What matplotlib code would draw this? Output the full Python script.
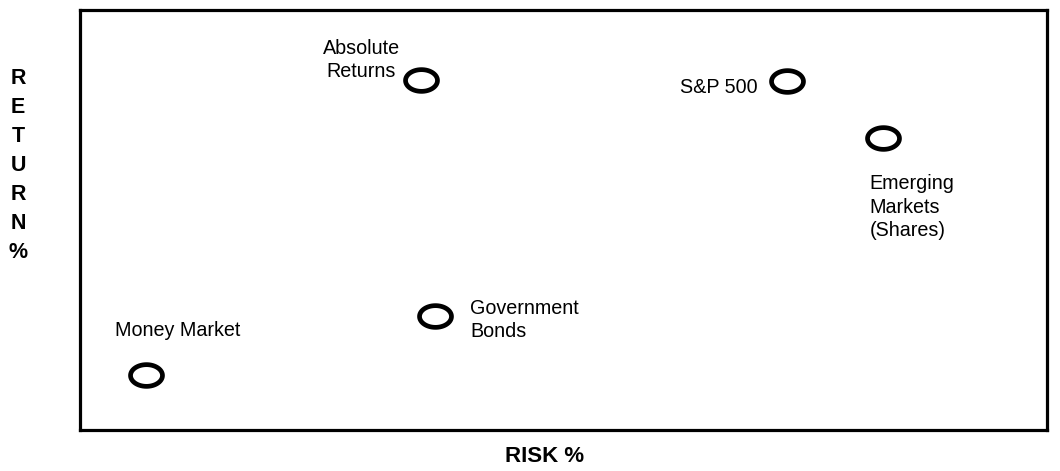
import numpy as np
import matplotlib
matplotlib.use("Agg")
import matplotlib.pyplot as plt
from matplotlib.path import Path

plt.rcParams["font.family"] = ["Liberation Sans", "DejaVu Sans"]

# asset classes, risk (x) vs return (y) on a 0-10 scale
assets = ["Money Market", "Government\nBonds", "Absolute\nReturns", "S&P 500",
          "Emerging\nMarkets\n(Shares)"]
risk = [0.68, 3.67, 3.53, 7.31, 8.30]
ret = [1.31, 2.71, 8.33, 8.31, 6.95]

# label placement relative to each marker (pixels) and alignment
offsets = [(32, 44), (35, -4), (-60, 20), (-29, -7), (-13, -69)]
aligns = ["center", "left", "center", "right", "left"]

# flattened ellipse marker
t = np.linspace(0, 2 * np.pi, 60)
ring = Path(np.column_stack([np.cos(t), 0.68 * np.sin(t)]), closed=True)

fig = plt.figure(figsize=(10.6, 4.71), dpi=100)
ax = fig.add_axes([80 / 1060, 1 - 430 / 471, 967 / 1060, 420 / 471])
ax.set_xlim(0, 10)
ax.set_ylim(0, 10)
ax.set_xticks([])
ax.set_yticks([])
for s in ax.spines.values():
    s.set_linewidth(2.3)

ax.plot(risk, ret, linestyle="none", marker=ring, markersize=23,
        markerfacecolor="none", markeredgecolor="black", markeredgewidth=3.4)

for name, x, y, off, ha in zip(assets, risk, ret, offsets, aligns):
    ax.annotate(name, (x, y), xytext=off, textcoords="offset pixels",
                ha=ha, va="center", multialignment=ha, fontsize=14.2,
                linespacing=1.3)

fig.text(545 / 1060, 1 - 457 / 471, "RISK %", ha="center", va="center",
         fontsize=16, fontweight="bold")
fig.text(18 / 1060, 1 - 166 / 471, "\n".join("RETURN%"), ha="center",
         va="center", fontsize=15.5, fontweight="bold", linespacing=1.5)

fig.savefig("out.png", dpi=100)
